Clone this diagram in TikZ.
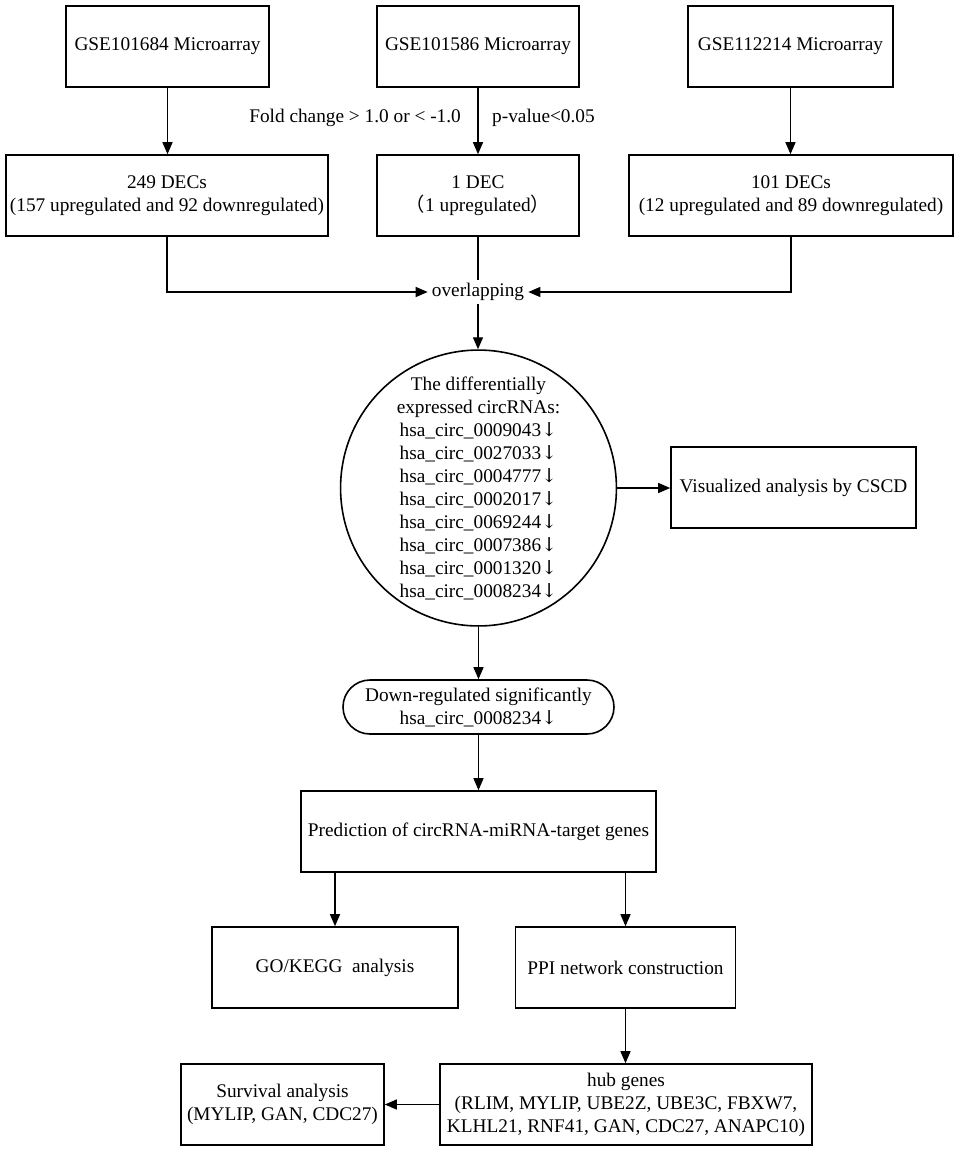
\documentclass[tikz,border=0pt]{standalone}
\usepackage{fontspec}
\setmainfont{Liberation Serif}
\newfontfamily\cjk{Noto Sans CJK SC}
\newfontfamily\arrfont{DejaVu Serif}
\newcommand{\dn}{{\arrfont ↓}}
\usetikzlibrary{arrows.meta,shapes.geometric}
\begin{document}
\begin{tikzpicture}[x=1pt,y=-1pt,
  every node/.style={font=\fontsize{19.3}{23}\selectfont, inner sep=0pt, align=center},
  box/.style={draw, line width=1.6pt, minimum height=81pt},
  arr/.style={line width=1.4pt, -{Triangle[length=12pt,width=10pt]}},
  ln/.style={line width=1.4pt}]
\useasboundingbox (0,0) rectangle (957,1152);
% top row
\node[box, minimum width=203pt] (g1) at (167.5,46.5) {GSE101684 Microarray};
\node[box, minimum width=202pt] (g2) at (478,46.5) {GSE101586 Microarray};
\node[box, minimum width=205pt] (g3) at (790.5,46.5) {GSE112214 Microarray};
% second row
\node[box, minimum width=322pt] (d1) at (167,195.5) {249 DECs\\(157 upregulated and 92 downregulated)};
\node[box, minimum width=202pt] (d2) at (478,195.5) {1 DEC\\{\cjk （}1 upregulated{\cjk ）}};
\node[box, minimum width=324pt] (d3) at (791,195.5) {101 DECs\\(12 upregulated and 89 downregulated)};
\draw[arr] (g1.south) -- (g1.south |- d1.north);
\draw[arr] (g2.south) -- (g2.south |- d2.north);
\draw[arr] (g3.south) -- (g3.south |- d3.north);
\node[anchor=east] (fc) at (461,118) {Fold change > 1.0 or < -1.0};
\node[anchor=west] (pv) at (492,118) {p-value<0.05};
% overlapping
\node[inner xsep=4pt, inner ysep=3pt] (ov) at (478,292) {overlapping};
\draw[arr] (d1.south) |- (ov.west);
\draw[arr] (d3.south) |- (ov.east);
\draw[ln] (d2.south) -- (d2.south |- ov.north);
% circle
\node[circle, draw, line width=1.6pt, minimum size=270pt] (circ) at (478.5,488)
  {The differentially\\expressed circRNAs:\\hsa\_circ\_0009043\dn\\hsa\_circ\_0027033\dn\\hsa\_circ\_0004777\dn\\hsa\_circ\_0002017\dn\\hsa\_circ\_0069244\dn\\hsa\_circ\_0007386\dn\\hsa\_circ\_0001320\dn\\hsa\_circ\_0008234\dn};
\draw[arr] (ov.south) -- (ov.south |- circ.north);
\node[box, minimum width=245pt] (vis) at (793.5,487.5) {Visualized analysis by CSCD};
\draw[arr] (circ.east) -- (circ.east -| vis.west);
% rounded box
\node[draw, line width=1.6pt, rounded corners=27pt, minimum width=271pt, minimum height=54pt] (rb) at (478.5,707)
  {Down-regulated significantly\\hsa\_circ\_0008234\dn};
\draw[arr] (circ.south) -- (circ.south |- rb.north);
\node[box, minimum width=355pt] (pred) at (478.5,831.5) {Prediction of circRNA-miRNA-target genes};
\draw[arr] (rb.south) -- (rb.south |- pred.north);
% bottom
\node[box, minimum width=246pt] (go) at (335,967.5) {GO/KEGG\ \ analysis};
\node[box, minimum width=220pt] (ppi) at (625.5,967.5) {PPI network construction};
\draw[arr] (go.north |- pred.south) -- (go.north);
\draw[arr] (ppi.north |- pred.south) -- (ppi.north);
\node[box, minimum width=372pt] (hub) at (626,1104.5)
  {hub genes\\(RLIM, MYLIP, UBE2Z, UBE3C, FBXW7,\\KLHL21, RNF41, GAN, CDC27, ANAPC10)};
\draw[arr] (ppi.south) -- (ppi.south |- hub.north);
\node[box, minimum width=203pt] (surv) at (282.5,1104.5) {Survival analysis\\(MYLIP, GAN, CDC27)};
\draw[arr] (hub.west) -- (surv.east);
\end{tikzpicture}
\end{document}
